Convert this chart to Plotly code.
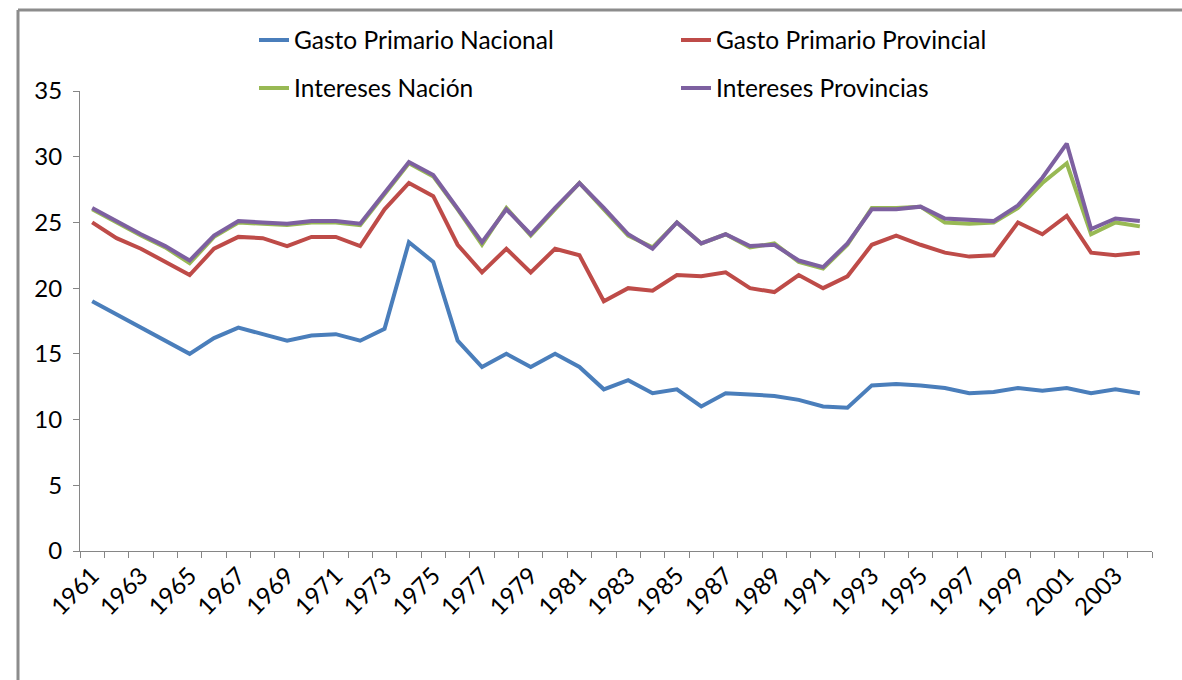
import plotly.graph_objects as go

years = list(range(1961, 2005))

gasto_nacional = [19.0, 18.0, 17.0, 16.0, 15.0, 16.2, 17.0, 16.5, 16.0, 16.4, 16.5, 16.0, 16.9, 23.5, 22.0,
                  16.0, 14.0, 15.0, 14.0, 15.0, 14.0, 12.3, 13.0, 12.0, 12.3, 11.0, 12.0, 11.9, 11.8, 11.5,
                  11.0, 10.9, 12.6, 12.7, 12.6, 12.4, 12.0, 12.1, 12.4, 12.2, 12.4, 12.0, 12.3, 12.0]

gasto_provincial = [25.0, 23.8, 23.0, 22.0, 21.0, 23.0, 23.9, 23.8, 23.2, 23.9, 23.9, 23.2, 26.0, 28.0, 27.0,
                    23.3, 21.2, 23.0, 21.2, 23.0, 22.5, 19.0, 20.0, 19.8, 21.0, 20.9, 21.2, 20.0, 19.7, 21.0,
                    20.0, 20.9, 23.3, 24.0, 23.3, 22.7, 22.4, 22.5, 25.0, 24.1, 25.5, 22.7, 22.5, 22.7]

intereses_nacion = [26.0, 25.0, 24.0, 23.1, 21.9, 23.9, 25.0, 24.9, 24.8, 25.0, 25.0, 24.8, 27.1, 29.5, 28.5,
                    26.0, 23.3, 26.1, 24.0, 26.0, 28.0, 26.0, 24.0, 23.1, 25.0, 23.4, 24.1, 23.1, 23.4, 22.0,
                    21.5, 23.3, 26.1, 26.1, 26.2, 25.0, 24.9, 25.0, 26.1, 28.0, 29.5, 24.1, 25.0, 24.7]

intereses_provincias = [26.1, 25.1, 24.1, 23.2, 22.1, 24.0, 25.1, 25.0, 24.9, 25.1, 25.1, 24.9, 27.2, 29.6, 28.6,
                        26.1, 23.5, 26.0, 24.1, 26.1, 28.0, 26.1, 24.1, 23.0, 25.0, 23.4, 24.1, 23.2, 23.3, 22.1,
                        21.6, 23.4, 26.0, 26.0, 26.2, 25.3, 25.2, 25.1, 26.3, 28.4, 31.0, 24.5, 25.3, 25.1]

names = ["Gasto Primario Nacional", "Gasto Primario Provincial", "Intereses Nación", "Intereses Provincias"]
colors = ["#4A7EBB", "#BE4B48", "#98B954", "#7D60A0"]
series = [gasto_nacional, gasto_provincial, intereses_nacion, intereses_provincias]
legends = ["legend", "legend", "legend2", "legend2"]

tick_years = list(range(1961, 2005, 2))
tick_labels = [str(y) for y in tick_years]

fig = go.Figure()
for name, col, vals, lg in zip(names, colors, series, legends):
    fig.add_trace(go.Scatter(x=years, y=vals, mode="lines", name=name,
                             line=dict(color=col, width=4), legend=lg))

font_family = "Lato, 'Open Sans', sans-serif"
axis_col = "#868686"

L, R, T, B = 80, 30, 91, 129
W, H = 1182, 680
pw = W - L - R
ph = H - T - B

fig.update_layout(
    width=W, height=H,
    paper_bgcolor="white", plot_bgcolor="white",
    margin=dict(l=L, r=R, t=T, b=B, autoexpand=False),
    font=dict(family=font_family, size=24, color="#000000"),
    showlegend=True,
    legend=dict(orientation="h", x=(254 - L) / pw, xanchor="left", y=1 + (T - 40) / ph, yanchor="middle",
                entrywidth=377, entrywidthmode="pixels", bgcolor="rgba(0,0,0,0)",
                font=dict(family=font_family, size=24.5, color="#000")),
    legend2=dict(orientation="h", x=(254 - L) / pw, xanchor="left", y=1 + (T - 88) / ph, yanchor="middle",
                 entrywidth=377, entrywidthmode="pixels", bgcolor="rgba(0,0,0,0)",
                 font=dict(family=font_family, size=24.5, color="#000")),
    xaxis=dict(range=[1960.5, 2004.5], tickmode="array", tickvals=tick_years, ticktext=tick_labels,
               tickangle=-45, ticks="", showgrid=False, zeroline=False, automargin=False,
               showline=True, linecolor=axis_col, linewidth=1,
               tickfont=dict(family=font_family, size=24, color="#000"),
               minor=dict(tickmode="linear", tick0=0.5, dtick=1, ticks="outside", ticklen=6,
                          tickcolor=axis_col, showgrid=False)),
    yaxis=dict(range=[0, 35], tickmode="linear", tick0=0, dtick=5, ticks="outside", ticklen=6,
               tickcolor=axis_col, showgrid=False, zeroline=False, showline=True, automargin=False,
               linecolor=axis_col, linewidth=1, ticklabelstandoff=6,
               tickfont=dict(family=font_family, size=24, color="#000")),
    shapes=[
        dict(type="line", xref="paper", yref="paper", x0=(18 - L) / pw, x1=1.1,
             y0=(T + ph - 10) / ph, y1=(T + ph - 10) / ph, line=dict(color="#8C8C8C", width=3)),
        dict(type="line", xref="paper", yref="paper", x0=(18 - L) / pw, x1=(18 - L) / pw,
             y0=(T + ph - 10) / ph, y1=-0.4, line=dict(color="#8C8C8C", width=3)),
    ],
)

fig.write_html("out.html", config={"displayModeBar": False},
               post_script="document.body.style.margin='0';document.body.style.overflow='hidden';")
